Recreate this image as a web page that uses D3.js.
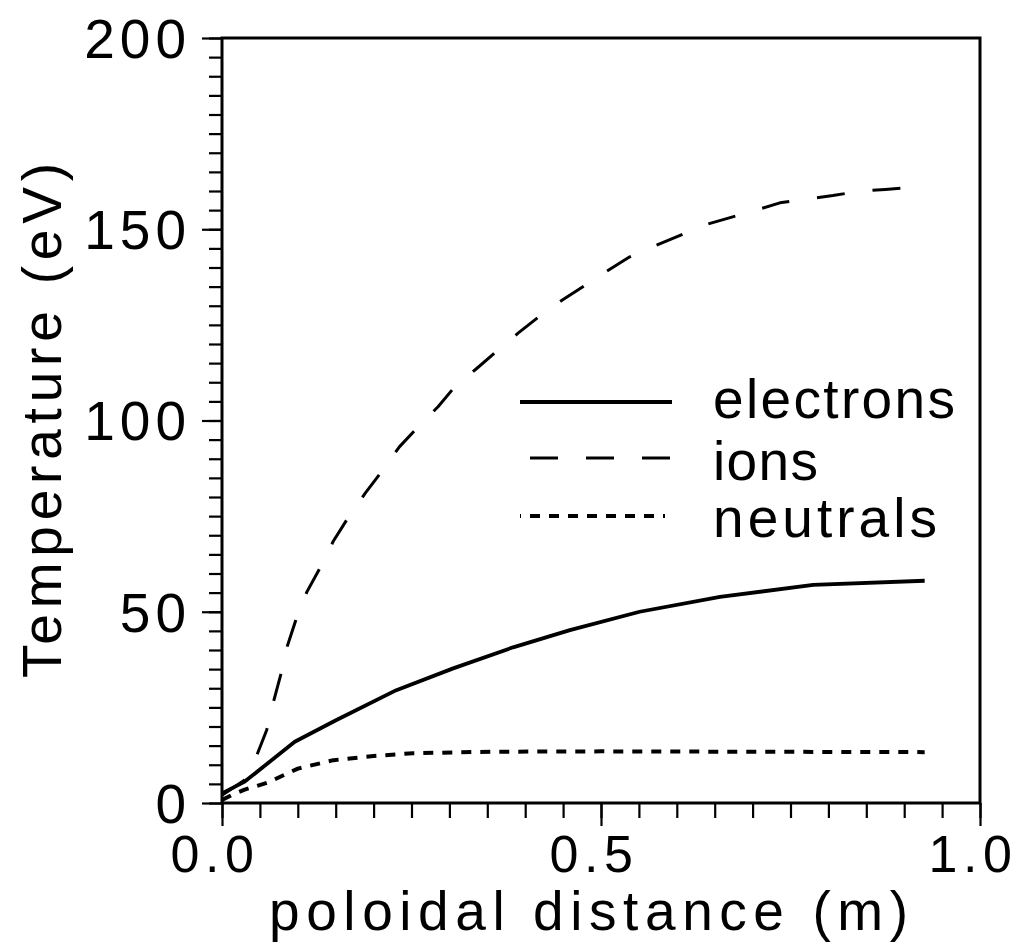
<!DOCTYPE html>
<html><head><meta charset="utf-8">
<script src="https://cdn.jsdelivr.net/npm/d3@7"></script>
<style>body{margin:0;background:#fff}</style>
</head><body><svg id="c" width="1021" height="950"></svg>
<script>
// ---- data ----
const seriesNames = ["electrons", "ions", "neutrals"];
const electronsX = [0, 0.03, 0.096, 0.151, 0.23, 0.305, 0.384, 0.459, 0.551, 0.657, 0.78, 0.927];
const electronsT = [2.5, 5.6, 16.0, 21.7, 29.5, 35.2, 40.7, 45.2, 50.0, 53.9, 57.0, 58.1];
const ionsX = [0, 0.03, 0.046, 0.059, 0.068, 0.078, 0.086, 0.098, 0.112, 0.130, 0.147, 0.167, 0.189, 0.212, 0.234, 0.260, 0.285, 0.307, 0.336, 0.363, 0.391, 0.419, 0.449, 0.478, 0.508, 0.538, 0.570, 0.602, 0.636, 0.668, 0.703, 0.736, 0.771, 0.806, 0.839, 0.875, 0.927];
const ionsT = [2, 6, 12.5, 19.1, 26.5, 33.9, 40.9, 48.2, 55.2, 61.7, 68.5, 74.8, 81, 87, 93.1, 98.6, 103.6, 108.8, 113.6, 118.2, 122.9, 127.3, 131.5, 135.2, 139.1, 142.8, 145.6, 148.2, 151.1, 152.9, 154.9, 156.9, 157.9, 158.8, 159.9, 160.4, 161.2];
const neutralsX = [0, 0.013, 0.03, 0.06, 0.1, 0.147, 0.2, 0.252, 0.354, 0.5, 0.7, 0.927];
const neutralsT = [0.8, 2.1, 3.5, 5.3, 9.0, 11.2, 12.3, 13.0, 13.4, 13.5, 13.4, 13.3];
const xTickValues = [0, 0.5, 1.0];
const xTickLabels = ["0.0", "0.5", "1.0"];
const yTickValues = [0, 50, 100, 150, 200];
const yTickLabels = ["0", "50", "100", "150", "200"];
const xTitle = "poloidal distance (m)";
const yTitle = "Temperature (eV)";

// ---- layout ----
const L = 222, R = 980, T = 38, B = 803;
const FONT = "'Liberation Sans', Arial, sans-serif";
const svg = d3.select("#c");
const x = d3.scaleLinear().domain([0, 1]).range([L, R]);
const y = d3.scaleLinear().domain([0, 200]).range([B, T]);

const xMinor = d3.range(0, 21).map(i => i * 0.05);
const yMinor = d3.range(0, 41).map(i => i * 5);

function styleAxis(g) {
  g.select(".domain").remove();
  g.selectAll(".tick line").attr("stroke", "#000").attr("stroke-width", 2.2);
}
svg.append("g").attr("transform", `translate(0,${B})`)
  .call(d3.axisBottom(x).tickValues(xMinor).tickSize(15).tickFormat(""))
  .call(styleAxis);
svg.append("g").attr("transform", `translate(0,${B})`)
  .call(d3.axisBottom(x).tickValues(xTickValues).tickSize(23).tickFormat(""))
  .call(styleAxis);
svg.append("g").attr("transform", `translate(${L},0)`)
  .call(d3.axisLeft(y).tickValues(yMinor).tickSize(13).tickFormat(""))
  .call(styleAxis);
svg.append("g").attr("transform", `translate(${L},0)`)
  .call(d3.axisLeft(y).tickValues(yTickValues).tickSize(20).tickFormat(""))
  .call(styleAxis);

// frame
svg.append("rect").attr("x", L).attr("y", T).attr("width", R - L).attr("height", B - T)
  .attr("fill", "none").attr("stroke", "#000").attr("stroke-width", 3);

// tick labels
svg.append("g").selectAll("text").data(yTickValues).join("text")
  .attr("x", 191).attr("y", d => y(d)).attr("dy", "0.36em")
  .attr("text-anchor", "end").attr("font-family", FONT).attr("font-size", 55)
  .attr("letter-spacing", "5px")
  .text((d, i) => yTickLabels[i]);
svg.append("g").selectAll("text").data(xTickValues).join("text")
  .attr("x", d => x(d) - 7).attr("y", 872)
  .attr("text-anchor", "middle").attr("font-family", FONT).attr("font-size", 52)
  .attr("letter-spacing", "5.5px")
  .text((d, i) => xTickLabels[i]);

// titles
svg.append("text").attr("x", 269).attr("y", 930)
  .attr("font-family", FONT).attr("font-size", 55)
  .attr("textLength", 639).attr("lengthAdjust", "spacing")
  .text(xTitle);
svg.append("text").attr("transform", "translate(61,678) rotate(-90)")
  .attr("font-family", FONT).attr("font-size", 55)
  .attr("textLength", 515).attr("lengthAdjust", "spacing")
  .text(yTitle);

// lines
const styles = {
  electrons: { dash: null, w: 3.8 },
  ions: { dash: "28,28", w: 3.0 },
  neutrals: { dash: "10,9", w: 4.0 }
};
const data = {
  electrons: electronsX.map((v, i) => [v, electronsT[i]]),
  ions: ionsX.map((v, i) => [v, ionsT[i]]),
  neutrals: neutralsX.map((v, i) => [v, neutralsT[i]])
};
const line = d3.line().x(d => x(d[0])).y(d => y(d[1])).curve(d3.curveLinear);
seriesNames.forEach(n => {
  svg.append("path").datum(data[n]).attr("d", line)
    .attr("fill", "none").attr("stroke", "#000").attr("stroke-width", styles[n].w)
    .attr("stroke-dasharray", styles[n].dash).attr("stroke-linejoin", "round");
});

// legend
const legY = [402, 458, 516];
const legTextY = [418, 480, 537];
const legTextLen = [242, 105, 224];
const legOffset = { electrons: 0, ions: 46, neutrals: 9 };
seriesNames.forEach((n, i) => {
  svg.append("line").attr("x1", 520).attr("x2", n === "neutrals" ? 665 : 672)
    .attr("y1", legY[i]).attr("y2", legY[i])
    .attr("stroke", "#000").attr("stroke-width", styles[n].w)
    .attr("stroke-dasharray", styles[n].dash).attr("stroke-dashoffset", legOffset[n]);
  svg.append("text").attr("x", 713).attr("y", legTextY[i])
    .attr("font-family", FONT).attr("font-size", 55)
    .attr("textLength", legTextLen[i]).attr("lengthAdjust", "spacing")
    .text(n);
});
</script>
</body></html>
